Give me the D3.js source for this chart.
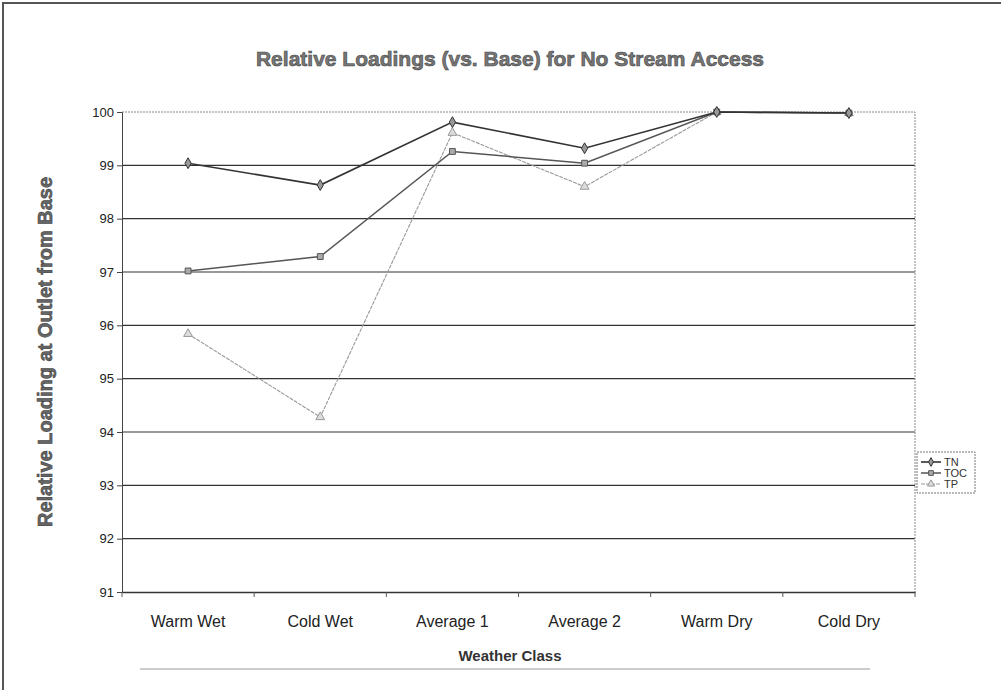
<!DOCTYPE html>
<html>
<head>
<meta charset="utf-8">
<script src="https://cdn.jsdelivr.net/npm/d3@7"></script>
<style>
  body { margin: 0; background: #fff; }
  svg { display: block; font-family: Arial, "Liberation Sans", sans-serif; }
</style>
</head>
<body>
<svg id="chart" width="1004" height="693"></svg>
<script>
// data
var categories = ["Warm Wet", "Cold Wet", "Average 1", "Average 2", "Warm Dry", "Cold Dry"];
var tnValues  = [99.04, 98.63, 99.81, 99.32, 100.0, 99.98];
var tocValues = [97.02, 97.29, 99.26, 99.04, 100.0, 99.98];
var tpValues  = [95.84, 94.28, 99.61, 98.60, 100.0, 99.98];
var seriesNames = ["TN", "TOC", "TP"];
var yTicks = [91, 92, 93, 94, 95, 96, 97, 98, 99, 100];

var svg = d3.select("#chart");
var plotLeft = 122, plotRight = 915, plotTop = 112, plotBottom = 592;

// outer frame (scanned page edge)
svg.append("path").attr("d", "M3,690 L3,3 L1001,3")
    .attr("fill", "none").attr("stroke", "#555").attr("stroke-width", 2);
svg.append("line").attr("x1", 140).attr("x2", 870).attr("y1", 669).attr("y2", 669)
    .attr("stroke", "#ccc").attr("stroke-width", 2);

var x = d3.scaleBand().domain(categories).range([plotLeft, plotRight]);
var y = d3.scaleLinear().domain([91, 100]).range([plotBottom, plotTop]);

// title
svg.append("text").attr("x", 510).attr("y", 66).attr("text-anchor", "middle")
    .attr("font-size", 21).attr("font-weight", "bold")
    .attr("fill", "#777").attr("stroke", "#444").attr("stroke-width", 0.6)
    .text("Relative Loadings (vs. Base) for No Stream Access");

// gridlines
svg.append("g").selectAll("line").data(yTicks.filter(d => d > 91 && d < 100)).enter().append("line")
    .attr("x1", plotLeft).attr("x2", plotRight)
    .attr("y1", d => y(d)).attr("y2", d => y(d))
    .attr("stroke", "#333").attr("stroke-width", 1.2);

// plot border top/right (dotted)
svg.append("path").attr("d", "M" + plotLeft + "," + plotTop + " H" + plotRight + " V" + plotBottom)
    .attr("fill", "none").attr("stroke", "#888").attr("stroke-dasharray", "2,1");

// y axis
var yAxis = svg.append("g").attr("transform", "translate(" + plotLeft + ",0)")
    .call(d3.axisLeft(y).tickValues(yTicks).tickSize(5).tickFormat(d3.format("d")));
yAxis.select(".domain").attr("stroke", "#444");
yAxis.selectAll(".tick line").attr("stroke", "#444");
yAxis.selectAll("text").attr("font-size", 13).attr("fill", "#222").attr("font-family", "Arial");

// x axis
var xAxis = svg.append("g").attr("transform", "translate(0," + plotBottom + ")")
    .call(d3.axisBottom(x).tickSize(0).tickPadding(24));
xAxis.select(".domain").attr("stroke", "#333").attr("stroke-width", 1.5);
xAxis.selectAll("text").attr("font-size", 16).attr("fill", "#222").attr("font-family", "Arial");
svg.append("g").selectAll("line").data(categories.concat(["end"])).enter().append("line")
    .attr("x1", (d, i) => plotLeft + i * x.bandwidth()).attr("x2", (d, i) => plotLeft + i * x.bandwidth())
    .attr("y1", plotBottom).attr("y2", plotBottom + 5).attr("stroke", "#555");

// axis titles
svg.append("text").attr("x", 510).attr("y", 661).attr("text-anchor", "middle")
    .attr("font-size", 15).attr("font-weight", "bold").attr("fill", "#333")
    .text("Weather Class");
svg.append("text").attr("transform", "translate(52," + ((plotTop + plotBottom) / 2) + ") rotate(-90)")
    .attr("text-anchor", "middle").attr("font-size", 20).attr("font-weight", "bold")
    .attr("fill", "#666").attr("stroke", "#333").attr("stroke-width", 0.5)
    .text("Relative Loading at Outlet from Base");

// series
var series = [
    {name: "TN", values: tnValues, color: "#333", width: 1.6, dash: null, marker: d3.symbolDiamond, fill: "#999"},
    {name: "TOC", values: tocValues, color: "#555", width: 1.5, dash: null, marker: d3.symbolSquare, fill: "#aaa"},
    {name: "TP", values: tpValues, color: "#999", width: 1.1, dash: "4,1", marker: d3.symbolTriangle, fill: "#ddd"}
];
var line = d3.line().x((d, i) => x(categories[i]) + x.bandwidth() / 2).y(d => y(d));

series.slice().reverse().forEach(function (s) {
    svg.append("path").datum(s.values).attr("d", line)
        .attr("fill", "none").attr("stroke", s.color).attr("stroke-width", s.width)
        .attr("stroke-dasharray", s.dash);
    svg.append("g").selectAll("path").data(s.values).enter().append("path")
        .attr("d", d3.symbol().type(s.marker).size(34))
        .attr("transform", (d, i) => "translate(" + (x(categories[i]) + x.bandwidth() / 2) + "," + y(d) + ")")
        .attr("fill", s.fill).attr("stroke", s.color).attr("stroke-width", 1);
});

// legend
var legend = svg.append("g").attr("transform", "translate(917,452)");
legend.append("rect").attr("width", 58).attr("height", 41)
    .attr("fill", "#fff").attr("stroke", "#777").attr("stroke-dasharray", "2,1");
series.forEach(function (s, i) {
    var ly = 10 + i * 11;
    legend.append("line").attr("x1", 4).attr("x2", 24).attr("y1", ly).attr("y2", ly)
        .attr("stroke", s.color).attr("stroke-width", s.width).attr("stroke-dasharray", s.dash);
    legend.append("path").attr("d", d3.symbol().type(s.marker).size(22))
        .attr("transform", "translate(14," + ly + ")")
        .attr("fill", s.fill).attr("stroke", s.color);
    legend.append("text").attr("x", 27).attr("y", ly + 4)
        .attr("font-size", 11).attr("fill", "#333").text(s.name);
});
</script>
</body>
</html>
